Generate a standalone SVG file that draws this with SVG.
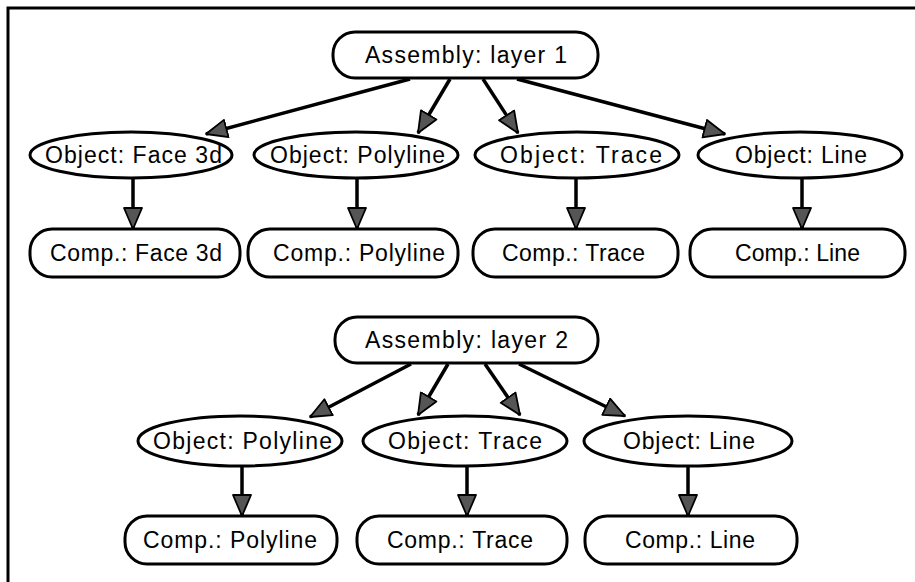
<svg xmlns="http://www.w3.org/2000/svg" width="915" height="582" viewBox="0 0 915 582">
<style>
  .box { fill: #fff; stroke: #000; stroke-width: 3; }
  .lbl { font-family: "Liberation Sans", Arial, sans-serif; font-size: 23px; fill: #000; }
  .edge { stroke: #000; stroke-width: 3.5; fill: none; marker-end: url(#ah); }
  .frame { stroke: #000; stroke-width: 3; fill: none; }
</style>
<defs>
  <marker id="ah" markerUnits="userSpaceOnUse" markerWidth="24" markerHeight="22" refX="22" refY="10" orient="auto" viewBox="0 0 24 22">
    <path d="M1,1 L22,10 L1,19 Z" fill="#555" stroke="#000" stroke-width="1.8" stroke-linejoin="round"/>
  </marker>
</defs>
<rect width="915" height="582" fill="#fff"/>
<path class="frame" d="M8,582 L8,8 L915,8"/>

<g id="connectors">
  <line class="edge" x1="410" y1="79" x2="206" y2="134"/>
  <line class="edge" x1="450" y1="79" x2="418" y2="133"/>
  <line class="edge" x1="483" y1="79" x2="518" y2="133"/>
  <line class="edge" x1="517" y1="79" x2="725" y2="134"/>
  <line class="edge" x1="133" y1="179" x2="133" y2="229"/>
  <line class="edge" x1="357" y1="179" x2="357" y2="229"/>
  <line class="edge" x1="576" y1="179" x2="576" y2="229"/>
  <line class="edge" x1="802" y1="179" x2="802" y2="229"/>
  <line class="edge" x1="411" y1="364" x2="310" y2="417"/>
  <line class="edge" x1="448" y1="364" x2="418" y2="415"/>
  <line class="edge" x1="485" y1="364" x2="520" y2="415"/>
  <line class="edge" x1="519" y1="364" x2="625" y2="416"/>
  <line class="edge" x1="242" y1="466" x2="242" y2="516"/>
  <line class="edge" x1="467" y1="466" x2="467" y2="516"/>
  <line class="edge" x1="688" y1="466" x2="688" y2="516"/>
</g>

<g id="assembly1">
  <rect class="box" x="333" y="32" width="265" height="46" rx="22"/>
  <text class="lbl" x="365" y="63" textLength="202" lengthAdjust="spacing">Assembly: layer 1</text>
</g>
<g id="obj1-face3d">
  <ellipse class="box" cx="131" cy="155" rx="101" ry="23"/>
  <text class="lbl" x="45" y="163" textLength="177" lengthAdjust="spacing">Object: Face 3d</text>
</g>
<g id="obj1-polyline">
  <ellipse class="box" cx="356" cy="155" rx="102" ry="23"/>
  <text class="lbl" x="270" y="163" textLength="175" lengthAdjust="spacing">Object: Polyline</text>
</g>
<g id="obj1-trace">
  <ellipse class="box" cx="577" cy="155" rx="102" ry="23"/>
  <text class="lbl" x="500" y="163" textLength="162" lengthAdjust="spacing">Object: Trace</text>
</g>
<g id="obj1-line">
  <ellipse class="box" cx="800" cy="155" rx="102" ry="23"/>
  <text class="lbl" x="735" y="163" textLength="132" lengthAdjust="spacing">Object: Line</text>
</g>
<g id="comp1-face3d">
  <rect class="box" x="30" y="229" width="210" height="48" rx="22"/>
  <text class="lbl" x="50" y="261" textLength="172" lengthAdjust="spacing">Comp.: Face 3d</text>
</g>
<g id="comp1-polyline">
  <rect class="box" x="248" y="229" width="210" height="48" rx="22"/>
  <text class="lbl" x="273" y="261" textLength="172" lengthAdjust="spacing">Comp.: Polyline</text>
</g>
<g id="comp1-trace">
  <rect class="box" x="473" y="229" width="205" height="48" rx="22"/>
  <text class="lbl" x="502" y="261" textLength="143" lengthAdjust="spacing">Comp.: Trace</text>
</g>
<g id="comp1-line">
  <rect class="box" x="690" y="229" width="215" height="48" rx="22"/>
  <text class="lbl" x="735" y="261" textLength="125" lengthAdjust="spacing">Comp.: Line</text>
</g>

<g id="assembly2">
  <rect class="box" x="335" y="317" width="263" height="46" rx="22"/>
  <text class="lbl" x="365" y="348" textLength="203" lengthAdjust="spacing">Assembly: layer 2</text>
</g>
<g id="obj2-polyline">
  <ellipse class="box" cx="240" cy="441" rx="102" ry="25"/>
  <text class="lbl" x="153" y="449" textLength="179" lengthAdjust="spacing">Object: Polyline</text>
</g>
<g id="obj2-trace">
  <ellipse class="box" cx="465" cy="441" rx="102" ry="25"/>
  <text class="lbl" x="388" y="449" textLength="154" lengthAdjust="spacing">Object: Trace</text>
</g>
<g id="obj2-line">
  <ellipse class="box" cx="688" cy="441" rx="104" ry="25"/>
  <text class="lbl" x="623" y="449" textLength="132" lengthAdjust="spacing">Object: Line</text>
</g>
<g id="comp2-polyline">
  <rect class="box" x="125" y="516" width="212" height="48" rx="22"/>
  <text class="lbl" x="143" y="548" textLength="174" lengthAdjust="spacing">Comp.: Polyline</text>
</g>
<g id="comp2-trace">
  <rect class="box" x="357" y="516" width="210" height="48" rx="22"/>
  <text class="lbl" x="387" y="548" textLength="146" lengthAdjust="spacing">Comp.: Trace</text>
</g>
<g id="comp2-line">
  <rect class="box" x="585" y="516" width="212" height="48" rx="22"/>
  <text class="lbl" x="625" y="548" textLength="130" lengthAdjust="spacing">Comp.: Line</text>
</g>
</svg>
